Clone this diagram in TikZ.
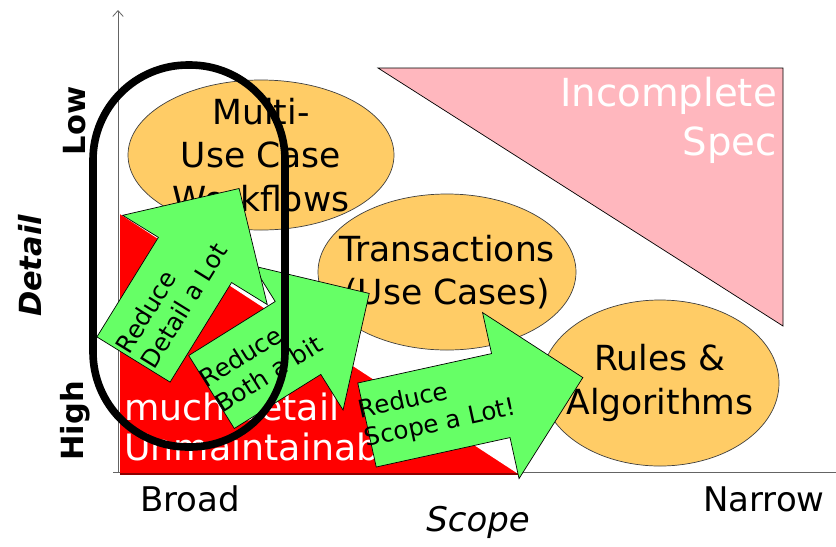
\documentclass[tikz,border=0pt]{standalone}
\usepackage{fontspec}
\setmainfont{DejaVu Sans}
\usetikzlibrary{arrows.meta,shapes.geometric}
\definecolor{ellfill}{RGB}{255,204,102}
\definecolor{arrgreen}{RGB}{102,255,102}
\definecolor{pinkfill}{RGB}{255,183,190}
\definecolor{redfill}{RGB}{255,0,0}
\definecolor{axisgray}{RGB}{100,100,100}
\newcommand\dgbig{\fontsize{29.5}{37}\selectfont}
\newcommand\dgred{\fontsize{31}{34}\selectfont}
\newcommand\dgspec{\fontsize{33}{42}\selectfont}
\newcommand\dgmid{\fontsize{29}{34}\selectfont}
\newcommand\dgside{\fontsize{26}{32}\selectfont}
\newcommand\dgsmall{\fontsize{21}{25}\selectfont}
\newcommand\greenarrow[6]{%
  \begin{scope}[shift={(#2)},rotate=#3]
    \draw[arrowshape] (0,-43) coordinate (#1-tailA) -- (#4,-43) -- (#4,-85)
      -- ({#4+84},0) coordinate (#1-tip) -- (#4,85) -- (#4,43) -- (0,43) coordinate (#1-tailB) -- cycle;
    \node[arrowtext,rotate=#3] (#1) at (#6,0) {#5};
  \end{scope}}
\begin{document}
\begin{tikzpicture}[x=0.03cm,y=-0.03cm,
  ellnode/.style={ellipse, draw=black!75, line width=0.6pt, fill=ellfill, inner sep=0pt},
  elltext/.style={align=center, font=\dgbig, inner sep=0pt},
  arrowshape/.style={draw=black, line width=0.6pt, fill=arrgreen, line join=miter},
  arrowtext/.style={align=left, font=\dgsmall, inner sep=0pt},
  whitetext/.style={text=white, inner sep=0pt},
  axislabel/.style={font=\dgmid, inner sep=0pt},
  sidelabel/.style={font=\dgside\bfseries, inner sep=0pt, rotate=90},
  axisline/.style={draw=axisgray, line width=0.7pt}]
\useasboundingbox (0,0) rectangle (836,546);
\fill[white] (0,0) rectangle (836,546);

% incomplete spec triangle
\coordinate (pinkA) at (378,68);
\coordinate (pinkB) at (783,68);
\coordinate (pinkC) at (783,326);
\filldraw[fill=pinkfill, draw=black, line width=0.6pt] (pinkA) -- (pinkB) -- (pinkC) -- cycle;
\node[whitetext, font=\dgspec, align=right, anchor=east] (incomplete) at (777,120) {Incomplete\\Spec};

% ellipses
\node[ellnode, minimum width=7.98cm, minimum height=4.5cm] (workflows) at (261,155) {};
\node[elltext] (workflows-text) at (workflows) {Multi-\\Use Case\\Workflows};
\node[ellnode, minimum width=7.74cm, minimum height=4.68cm] (transactions) at (447,272) {};
\node[elltext] (transactions-text) at (transactions) {Transactions\\(Use Cases)};
\node[ellnode, minimum width=7.14cm, minimum height=4.98cm] (rules) at (660,383) {};
\node[elltext] (rules-text) at (rules) {Rules \&\\Algorithms};

% axes
\coordinate (origin) at (118,472);
\coordinate (ytop) at (118,10);
\coordinate (xleft) at (113,472);
\coordinate (xend) at (836,472);
\draw[axisline, -{Straight Barb[length=5pt,width=9pt]}] (origin) -- (ytop);
\draw[axisline] (xleft) -- (xend);

% too much detail triangle
\coordinate (redA) at (120,213);
\coordinate (redB) at (120,474);
\coordinate (redC) at (520,474);
\fill[redfill] (redA) -- (redB) -- (redC) -- cycle;
\draw[white, line width=1.5pt] (redA) -- (redC);
\draw[draw=red!55!black, line width=1pt] (redB) -- (redC);
\node[whitetext, font=\dgred, align=left, anchor=west] (toomuch) at (124,427) {much detail\\Unmaintainable};

% green arrows
\greenarrow{reduceboth}{211.5,392}{32}{102}{Reduce\\Both a bit}{58}
\greenarrow{reducedetail}{133.5,359.5}{58.3}{117}{Reduce\\Detail a Lot}{72}
\greenarrow{reducescope}{367,425}{12.4}{137}{Reduce\\Scope a Lot!}{72}

% focus outline
\node[draw=black, line width=6.5pt, rounded corners=2.85cm, minimum width=5.76cm, minimum height=11.46cm, inner sep=0pt] (focus) at (189,256) {};

% labels
\node[axislabel] (broad) at (190,499) {Broad};
\node[axislabel] (narrow) at (764,499) {Narrow};
\node[axislabel, font=\dgmid\itshape] (scope) at (478,522) {Scope};
\node[sidelabel, font=\dgside\bfseries\itshape] (detail) at (30,266) {Detail};
\node[sidelabel] (low) at (75,121) {Low};
\node[sidelabel] (high) at (75,421) {High};
\end{tikzpicture}
\end{document}
